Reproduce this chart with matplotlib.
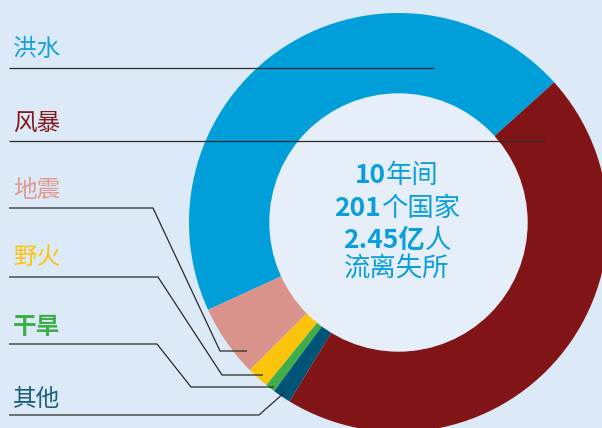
import matplotlib
matplotlib.use("Agg")
import matplotlib.pyplot as plt
from matplotlib.patches import Circle

plt.rcParams['font.family'] = ['Noto Sans CJK SC', 'DejaVu Sans']

# displacement share by hazard (pie order, counter-clockwise from the top right)
hazards = ['洪水', '地震', '野火', '干旱', '其他', '风暴']
shares = [45.2, 5.6, 1.7, 0.75, 1.4, 45.4]
colors = ['#009fda', '#d9938b', '#fcc30b', '#3fae49', '#005478', '#811416']

# left hand labels, top to bottom
label_names = ['洪水', '风暴', '地震', '野火', '干旱', '其他']
label_colors = ['#17a0da', '#86181c', '#e0988f', '#fcc30b', '#3fae49', '#1b5d7c']
label_weights = ['normal', 'normal', 'normal', 'normal', 'bold', 'normal']

center_lines = [
    [('10', 'bold'), ('年间', 'medium')],
    [('201', 'bold'), ('个国家', 'normal')],
    [('2.45亿', 'bold'), ('人', 'normal')],
    [('流离失所', 'normal')],
]

W, H = 602, 428
bg = '#dce9f6'
hole = '#e6eefa'

fig = plt.figure(figsize=(W / 100, H / 100), dpi=100, facecolor=bg)
ax = fig.add_axes([0, 0, 1, 1])


def py(y):
    # pixel row (from the top) to data y
    return H - y


cx, cy = 398.5, py(222.5)
R, r = 209.5, 128.5

ax.pie(shares, colors=colors, startangle=42, counterclock=True,
       radius=R, center=(cx, cy), frame=True,
       wedgeprops=dict(width=R - r, linewidth=0))
ax.add_patch(Circle((cx, cy), r, color=hole, zorder=1))
ax.set_xlim(0, W)
ax.set_ylim(0, H)
ax.set_aspect('auto')
ax.axis('off')

# labels and leader lines (pixel layout)
label_y = [49, 123, 190, 258, 327, 400]
leaders = [
    [(9, 68), (434, 68)],
    [(9, 141), (545, 141)],
    [(9, 208), (153, 208), (220, 351), (247, 351)],
    [(9, 277), (158, 277), (222, 375), (263, 375)],
    [(9, 344), (157, 344), (191, 387), (274, 387)],
    [(9, 415), (259, 415), (285, 392)],
]
for name, c, wt, y, pts in zip(label_names, label_colors, label_weights,
                               label_y, leaders):
    ax.text(13, py(y), name, color=c, fontsize=17, fontweight=wt,
            ha='left', va='center', zorder=5)
    ax.plot([p[0] for p in pts], [py(p[1]) for p in pts], color='#2a2a2a',
            lw=0.9, zorder=4, solid_capstyle='butt')

# centre text with mixed weights
fig.canvas.draw()
renderer = fig.canvas.get_renderer()
line_y = [175, 208, 240, 269]
for segs, y in zip(center_lines, line_y):
    texts = []
    for s, w in segs:
        t = ax.text(0, py(y), s, fontsize=19, fontweight=w, color='#0a9fda',
                    ha='left', va='center', zorder=6)
        texts.append(t)
    widths = [t.get_window_extent(renderer).width for t in texts]
    x = 397 - sum(widths) / 2
    for t, w in zip(texts, widths):
        t.set_x(x)
        x += w

fig.savefig('out.png', dpi=100, facecolor=bg)
